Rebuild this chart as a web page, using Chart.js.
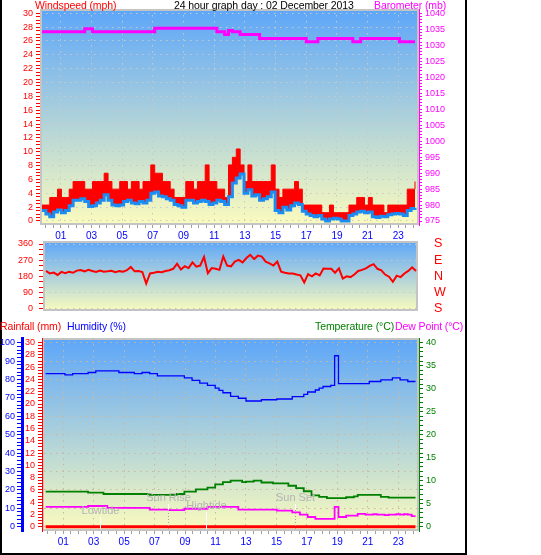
<!DOCTYPE html>
<html>
<head>
<meta charset="utf-8">
<script src="https://cdn.jsdelivr.net/npm/chart.js@4/dist/chart.umd.min.js"></script>
<style>
  html, body { margin: 0; padding: 0; background: #fff; }
  #wrap { position: relative; width: 541px; height: 555px; overflow: hidden; font-family: "Liberation Sans", Arial, sans-serif; }
  #frame { position: absolute; left: 0; top: 0; width: 467px; height: 555px; box-sizing: border-box; border: 2px solid #000; border-top: none; }
  canvas { position: absolute; left: 0; }
  .lbl { position: absolute; font-size: 10.5px; line-height: 11px; letter-spacing: -0.1px; white-space: nowrap; }
</style>
</head>
<body>
<div id="wrap">
  <div id="frame"></div>
  <canvas id="c1" width="466" height="250" style="top:0"></canvas>
  <canvas id="c2" width="466" height="94" style="top:229px"></canvas>
  <canvas id="c3" width="466" height="229" style="top:326px"></canvas>

  <div class="lbl" style="left:35px;top:0;color:#ff0000">Windspeed (mph)</div>
  <div class="lbl" style="left:174px;top:0;color:#000">24 hour graph day : 02 December 2013</div>
  <div class="lbl" style="left:374px;top:0;color:#ff00ff">Barometer (mb)</div>

  <div class="lbl" style="left:0;top:321px;color:#ff0000">Rainfall (mm)</div>
  <div class="lbl" style="left:67px;top:321px;color:#0000ff">Humidity (%)</div>
  <div class="lbl" style="left:315px;top:321px;color:#008000">Temperature (°C)</div>
  <div class="lbl" style="left:395px;top:321px;color:#ff00ff">Dew Point (°C)</div>
</div>

<script>
Chart.defaults.font.family = '"Liberation Sans", Arial, sans-serif';

// samples are every 15 minutes, 00:00 .. 24:00
const STEP_H = 0.25;

const hourTicks = [1, 3, 5, 7, 9, 11, 13, 15, 17, 19, 21, 23];
const hourLabels = ["01", "03", "05", "07", "09", "11", "13", "15", "17", "19", "21", "23"];

const windTicks = [0, 2, 4, 6, 8, 10, 12, 14, 16, 18, 20, 22, 24, 26, 28, 30];
const baroTicks = [975, 980, 985, 990, 995, 1000, 1005, 1010, 1015, 1020, 1025, 1030, 1035, 1040];
const dirTicks = [0, 90, 180, 270, 360];
const compassLabels = ["S", "W", "N", "E", "S"];
const humTicks = [0, 10, 20, 30, 40, 50, 60, 70, 80, 90, 100];
const rainTicks = [0, 2, 4, 6, 8, 10, 12, 14, 16, 18, 20, 22, 24, 26, 28, 30];
const tempTicks = [0, 5, 10, 15, 20, 25, 30, 35, 40];

// wind gust (mph)
const windGust = [
  2.3, 2.3, 3.4, 3.4,   4.6, 3.4, 3.4, 4.6,   5.7, 5.7, 5.7, 4.6,   4.6, 5.7, 5.7, 5.7,
  6.9, 5.7, 4.6, 4.6,   5.7, 5.7, 4.6, 5.7,   5.7, 4.6, 5.7, 5.7,   8.1, 6.9, 6.9, 5.7,
  5.7, 4.6, 3.4, 3.4,   3.4, 5.7, 5.7, 4.6,   5.7, 5.7, 8.1, 5.7,   5.7, 4.6, 4.6, 3.4,
  8.1, 9.2, 10.4, 8.1,  5.7, 8.1, 5.7, 5.7,   5.7, 5.7, 5.7, 8.1,   4.6, 3.4, 4.6, 4.6,
  4.6, 5.7, 4.6, 2.3,   2.3, 2.3, 2.3, 2.3,   1.2, 1.2, 2.3, 1.2,   1.2, 1.2, 1.2, 2.3,
  2.3, 3.4, 3.4, 2.3,   3.4, 2.3, 2.3, 2.3,   1.2, 2.3, 2.3, 2.3,   2.3, 2.3, 4.6, 4.6,
  5.7
];

// average wind (mph)
const windAvg = [
  1.5, 1.0, 0.6, 1.3,   1.6, 1.2, 1.5, 2.2,   3.0, 3.0, 3.2, 2.8,   2.1, 2.2, 2.6, 3.0,
  3.8, 3.0, 2.3, 2.2,   2.3, 2.8, 3.0, 2.6,   2.5, 2.8, 2.6, 3.0,   4.0, 4.2, 3.6, 3.5,
  3.2, 3.0, 2.4, 2.2,   2.0, 3.0, 3.0, 2.6,   2.8, 3.0, 2.8, 2.4,   2.6, 3.0, 2.8, 2.4,
  3.5, 5.5, 6.2, 6.8,   4.0, 4.5, 3.6, 3.8,   3.0, 3.2, 3.5, 4.2,   1.5, 1.2, 2.0, 1.6,
  2.2, 2.6, 2.4, 1.4,   1.0, 0.8, 0.6, 0.8,   0.3, 0.0, 0.3, 0.4,   0.3, 0.0, 0.0, 0.8,
  1.0, 1.3, 1.4, 1.2,   1.3, 0.6, 0.5, 0.7,   0.6, 0.9, 1.0, 1.1,   1.0, 0.8, 1.5, 1.8,
  1.9
];

// barometer (mb)
const barometer = [
  1034.2, 1034.2, 1034.2, 1034.2,  1034.2, 1034.2, 1034.2, 1034.2,  1034.2, 1034.2, 1034.2, 1035.2,
  1035.2, 1034.2, 1034.2, 1034.2,  1034.2, 1034.2, 1034.2, 1034.2,  1034.2, 1034.2, 1034.2, 1034.2,
  1034.2, 1034.2, 1034.2, 1034.2,  1034.2, 1035.3, 1035.3, 1035.3,  1035.3, 1035.3, 1035.3, 1035.3,
  1035.3, 1035.3, 1035.3, 1035.3,  1035.3, 1035.3, 1035.3, 1035.3,  1035.3, 1034.2, 1034.2, 1033.4,
  1034.6, 1034.2, 1034.2, 1033.4,  1033.4, 1033.4, 1033.4, 1033.4,  1032.1, 1032.1, 1032.1, 1032.1,
  1032.1, 1032.1, 1032.1, 1032.1,  1032.1, 1032.1, 1032.1, 1032.1,  1031.1, 1031.1, 1031.1, 1032.1,
  1032.1, 1032.1, 1032.1, 1032.1,  1032.1, 1032.1, 1032.1, 1032.1,  1031.1, 1031.1, 1032.1, 1032.1,
  1032.1, 1032.1, 1032.1, 1032.1,  1032.1, 1032.1, 1032.1, 1032.1,  1031.1, 1031.1, 1031.1, 1031.1,
  1031.1
];

// wind direction (degrees)
const windDir = [
  210, 196, 201, 188,  205, 198, 206, 200,  212, 215, 208, 216,  210, 204, 212, 206,
  208, 211, 203, 209,  206, 214, 232, 208,  210, 204, 140, 196,  200, 205, 203, 210,
  214, 222, 250, 218,  236, 226, 258, 234,  240, 288, 198, 226,  222, 216, 290, 240,
  236, 262, 272, 258,  282, 300, 276, 296,  290, 262, 252, 240,  262, 206, 200, 196,
  196, 190, 186, 146,  192, 180, 196, 185,  224, 222, 222, 200,  224, 168, 180, 176,
  190, 210, 216, 224,  238, 248, 222, 214,  190, 178, 150, 184,  176, 196, 210, 230,
  210
];

// humidity (%)
const humidity = [
  83.2, 83.2, 83.2, 83.2,  83.2, 82.5, 82.5, 83.2,  83.2, 83.2, 83.2, 83.8,  83.8, 84.7, 84.7, 84.7,
  84.7, 84.7, 84.7, 83.8,  83.8, 83.8, 83.8, 83.2,  83.2, 83.8, 83.8, 83.2,  83.2, 82.0, 82.0, 82.0,
  82.0, 82.0, 82.0, 82.0,  80.9, 80.9, 79.5, 79.5,  78.0, 78.0, 76.8, 76.8,  75.3, 74.1, 72.8, 72.8,
  70.8, 70.8, 69.8, 69.8,  68.3, 68.3, 68.3, 68.3,  69.0, 69.0, 69.0, 69.0,  69.4, 69.4, 69.4, 69.4,
  70.7, 70.7, 70.7, 71.9,  73.2, 73.2, 74.3, 75.3,  76.2, 76.2, 76.8, 92.9,  77.8, 77.8, 77.8, 77.8,
  77.8, 77.8, 77.8, 77.8,  78.9, 78.9, 78.9, 79.8,  79.8, 79.8, 80.9, 80.9,  79.8, 79.8, 78.9, 78.9,
  78.9
];

// temperature (°C)
const temperature = [
  7.6, 7.6, 7.6, 7.6,  7.6, 7.6, 7.6, 7.6,  7.6, 7.6, 7.6, 7.4,  7.4, 7.4, 7.4, 7.1,
  7.1, 7.1, 7.1, 7.1,  7.1, 7.1, 7.1, 7.1,  7.1, 7.1, 7.1, 6.9,  6.9, 6.9, 6.9, 6.9,
  6.9, 6.9, 7.1, 7.1,  7.6, 7.6, 7.6, 8.1,  8.1, 8.1, 8.5, 8.5,  9.2, 9.2, 9.7, 9.7,
  10.0, 10.0, 10.0, 9.7,  9.8, 9.8, 10.0, 10.0,  9.6, 9.6, 9.6, 9.4,  9.4, 9.4, 9.4, 8.9,
  8.9, 8.4, 8.4, 7.7,  7.7, 6.8, 6.8, 6.5,  6.5, 6.2, 6.2, 6.2,  6.2, 6.2, 6.4, 6.4,
  6.6, 6.9, 6.9, 6.9,  6.9, 6.9, 6.9, 6.5,  6.5, 6.3, 6.3, 6.3,  6.3, 6.3, 6.3, 6.3,
  6.3
];

// dew point (°C)
const dewPoint = [
  4.3, 4.3, 4.3, 4.3,  4.3, 4.3, 4.3, 4.3,  4.3, 4.3, 4.3, 4.5,  4.5, 4.5, 4.5, 4.5,
  4.1, 4.1, 4.1, 4.1,  4.1, 4.1, 4.1, 4.1,  4.1, 4.1, 4.1, 3.7,  3.7, 3.7, 3.7, 3.7,
  3.6, 3.6, 3.6, 3.6,  3.9, 3.9, 3.9, 3.9,  3.9, 3.9, 4.3, 4.3,  4.3, 4.3, 4.3, 4.3,
  4.3, 4.3, 3.7, 3.7,  3.7, 3.7, 3.7, 3.7,  3.7, 3.7, 3.7, 3.7,  3.5, 3.5, 3.5, 3.5,
  3.1, 3.1, 2.6, 2.6,  2.1, 2.1, 1.7, 1.7,  1.7, 1.7, 1.7, 4.3,  2.1, 2.1, 2.4, 2.4,
  2.4, 2.8, 2.8, 2.6,  2.6, 2.7, 2.6, 2.6,  2.5, 2.6, 2.6, 2.7,  2.6, 2.7, 2.6, 2.3,
  2.3
];

// rainfall (mm): none all day
const rainHours = [0, 24];
const rainfall = [0, 0];

// day events shown in the lower panel
const markerNames = ["Lowtide", "Sun Rise", "Hightide", "Sun Set"];
const markerHours = [3.52, 7.96, 10.40, 16.18];

const CLEAR = "rgba(0,0,0,0)";
const at = arr => arr.map((v, i) => ({ x: i * STEP_H, y: v }));
const idxOf = (list, v) => list.findIndex(t => Math.abs(t - v) < 1e-6);

// a value axis with labelled marks and small unlabelled ticks in between
function valueAxis(o) {
  return {
    type: "linear", position: o.pos, min: o.min, max: o.max, bounds: "data", weight: o.weight || 0,
    afterFit: s => { s.width = o.width; },
    afterBuildTicks: s => {
      const first = o.marks[0], last = o.marks[o.marks.length - 1], t = [];
      for (let v = first; v <= last + 1e-9; v += o.minor) t.push({ value: Math.round(v * 1000) / 1000 });
      s.ticks = t;
    },
    ticks: {
      autoSkip: false, color: o.color, padding: o.pad, font: { size: o.size || 9 },
      callback: v => {
        const i = idxOf(o.marks, v);
        return i < 0 ? "" : (o.names ? o.names[i] : String(v));
      }
    },
    grid: {
      drawOnChartArea: !!o.dots,
      color: c => (o.dots && c.tick && idxOf(o.marks, c.tick.value) >= 0) ? o.dots : CLEAR,
      tickColor: o.tickColor || o.color,
      tickLength: o.tick,
      lineWidth: 1
    },
    border: { display: !!o.line, color: o.line || CLEAR, width: o.lineWidth || 1, dash: [1.5, 4.5] }
  };
}

function hourAxis(min, max, height, dots) {
  return {
    type: "linear", position: "bottom", min, max, bounds: "data",
    afterFit: s => { s.height = height; },
    afterBuildTicks: s => {
      const t = [];
      for (let v = 0; v <= 24; v += 0.5) t.push({ value: v });
      s.ticks = t;
    },
    ticks: {
      autoSkip: false, maxRotation: 0, minRotation: 0, padding: 2, color: "#0000ff", font: { size: 10 },
      callback: v => { const i = idxOf(hourTicks, v); return i < 0 ? "" : hourLabels[i]; }
    },
    grid: {
      color: c => (c.tick && idxOf(hourTicks, c.tick.value) >= 0) ? dots : CLEAR,
      tickColor: "#a0a0a0", tickLength: 3
    },
    border: { display: false, dash: [1.5, 4.5] }
  };
}

const dataAxis = (min, max) => ({ type: "linear", display: false, min, max, bounds: "data" });

function common(pad, scales) {
  return {
    responsive: false, animation: false, events: [],
    layout: { padding: Object.assign({ top: 0, right: 0, bottom: 0, left: 0 }, pad) },
    plugins: { legend: { display: false }, tooltip: { enabled: false } },
    elements: { point: { radius: 0, hoverRadius: 0 }, line: { tension: 0 } },
    scales
  };
}

// blue-to-yellow plot background and grey frame
const panelBg = {
  id: "panelBg",
  beforeDraw(chart) {
    const { ctx, chartArea: a } = chart;
    const g = ctx.createLinearGradient(0, a.top, 0, a.bottom);
    g.addColorStop(0, "#5da6f9");
    g.addColorStop(1, "#fbfbbd");
    ctx.save();
    ctx.fillStyle = g;
    ctx.fillRect(a.left, a.top, a.right - a.left, a.bottom - a.top);
    ctx.strokeStyle = "#c4c4c4";
    ctx.lineWidth = 2;
    ctx.strokeRect(a.left + 1, a.top + 1, a.right - a.left - 2, a.bottom - a.top - 2);
    ctx.restore();
  }
};

// label offsets above the plot bottom: [text, white line top, white line end]
const markerLook = [[20, 14, 2], [33, 27, 21], [25, 19, 2], [33, 27, 21]];

const dayMarkers = {
  id: "dayMarkers",
  afterDatasetsDraw(chart) {
    const { ctx, chartArea: a, scales: { x } } = chart;
    ctx.save();
    ctx.font = '11px "Liberation Sans", Arial, sans-serif';
    ctx.textAlign = "center";
    ctx.textBaseline = "middle";
    markerNames.forEach((name, i) => {
      const px = Math.round(x.getPixelForValue(markerHours[i])) + 0.5;
      const [ty, w1, w2] = markerLook[i];
      ctx.lineWidth = 1;
      if (w2 > 2) {
        ctx.strokeStyle = "#a0a0a0";
        ctx.setLineDash([1, 2]);
        ctx.beginPath(); ctx.moveTo(px, a.bottom - w2); ctx.lineTo(px, a.bottom - 2); ctx.stroke();
        ctx.setLineDash([]);
      }
      ctx.strokeStyle = "#ffffff";
      ctx.beginPath(); ctx.moveTo(px, a.bottom - w1); ctx.lineTo(px, a.bottom - w2); ctx.stroke();
      ctx.fillStyle = "#b4b4b4";
      ctx.fillText(name, px, a.bottom - ty);
    });
    ctx.restore();
  }
};

// wind speed and barometer
new Chart(document.getElementById("c1"), {
  type: "line",
  data: {
    datasets: [
      { data: at(windGust), xAxisID: "x", yAxisID: "y", borderColor: "#ff0000", backgroundColor: "#ff0000",
        borderWidth: 1, stepped: true, fill: 1, order: 2 },
      { data: at(windAvg), xAxisID: "x", yAxisID: "y", borderColor: "#1a8cf2",
        borderWidth: 3, stepped: true, fill: false, order: 0 },
      { data: at(barometer), xAxisID: "x", yAxisID: "yb", borderColor: "#ff00ff",
        borderWidth: 3, stepped: true, fill: false, order: 1 }
    ]
  },
  options: common({ top: 9 }, {
    x: dataAxis(-0.129, 24.257),
    xt: hourAxis(-0.356, 24.349, 25, "#c8c8c8"),
    y: valueAxis({ pos: "left", width: 40, min: -0.578, max: 30.621, marks: windTicks, minor: 0.5,
      color: "#ff0000", tick: 4, pad: 3, dots: "#c8c8c8" }),
    yb: valueAxis({ pos: "right", width: 47, min: 973.75, max: 1041.35, marks: baroTicks, minor: 1,
      color: "#ff00ff", tick: 3, pad: 3, line: "#ff00ff" })
  }),
  plugins: [panelBg]
});

// wind direction
new Chart(document.getElementById("c2"), {
  type: "line",
  data: {
    datasets: [
      { data: at(windDir), xAxisID: "x", yAxisID: "y", borderColor: "#ff0000", borderWidth: 2, fill: false }
    ]
  },
  options: common({ top: 12, bottom: 12 }, {
    x: dataAxis(-0.195, 24.13),
    y: valueAxis({ pos: "left", width: 43, min: -12.8, max: 376.7, marks: dirTicks, minor: 30,
      color: "#ff0000", tick: 4, pad: 6, dots: "#c8c8c8" }),
    yr: valueAxis({ pos: "right", width: 48, min: -12.8, max: 376.7, marks: dirTicks, names: compassLabels,
      minor: 90, color: "#ff0000", tickColor: CLEAR, tick: 16, pad: 0, size: 12.5 })
  }),
  plugins: [panelBg]
});

// rain, humidity, temperature, dew point
new Chart(document.getElementById("c3"), {
  type: "line",
  data: {
    datasets: [
      { data: at(humidity), xAxisID: "x", yAxisID: "hum", borderColor: "#0000ff", borderWidth: 1.3, stepped: true, fill: false },
      { data: at(temperature), xAxisID: "x", yAxisID: "temp", borderColor: "#008000", borderWidth: 1.8, stepped: true, fill: false },
      { data: at(dewPoint), xAxisID: "x", yAxisID: "temp", borderColor: "#ff00ff", borderWidth: 1.8, stepped: true, fill: false },
      { data: rainHours.map((h, i) => ({ x: h, y: rainfall[i] })), xAxisID: "x", yAxisID: "rain",
        borderColor: "#ff0000", borderWidth: 3, fill: false }
    ]
  },
  options: common({ top: 12 }, {
    x: dataAxis(-0.24, 24.227),
    xt: hourAxis(-0.392, 24.359, 24, "#c8b8a0"),
    hum: valueAxis({ pos: "left", weight: 1, width: 22, min: -2.34, max: 102.55, marks: humTicks, minor: 2,
      color: "#0000ff", tick: 5, pad: 2, dots: "#c8b8a0", line: "#0000ff", lineWidth: 3 }),
    rain: valueAxis({ pos: "left", weight: 0, width: 20, min: -0.70, max: 30.76, marks: rainTicks, minor: 0.5,
      color: "#ff0000", tick: 4, pad: 3, line: "#ff0000" }),
    temp: valueAxis({ pos: "right", width: 47, min: -0.94, max: 41.02, marks: tempTicks, minor: 1,
      color: "#008000", tick: 4, pad: 3, line: "#008000" })
  }),
  plugins: [panelBg, dayMarkers]
});
</script>
</body>
</html>
